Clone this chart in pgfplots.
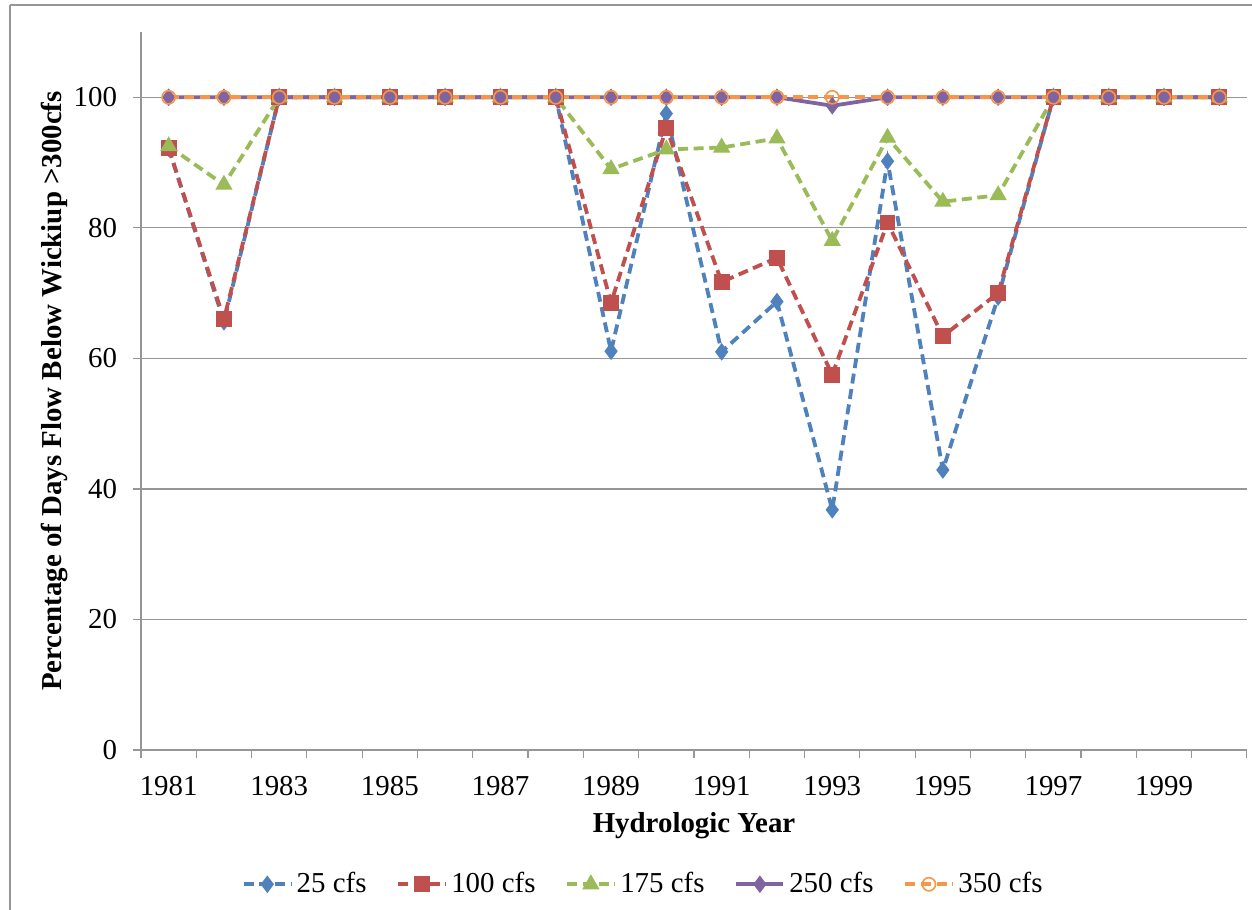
\documentclass[border=0pt]{standalone}
\usepackage{fontspec}
\setmainfont{Liberation Serif}
\usepackage{pgfplots}
\pgfplotsset{compat=1.18}

\definecolor{c25}{HTML}{4F81BD}
\definecolor{c100}{HTML}{C0504D}
\definecolor{c175}{HTML}{9BBB59}
\definecolor{c250}{HTML}{8064A2}
\definecolor{c350}{HTML}{F79646}
\definecolor{gridgray}{RGB}{150,150,150}

\pgfplotstableread{
year  q25   q100  q175  q250  q350
1981  92.2  92.2  92.5  100   100
1982  65.6  66.0  86.6  100   100
1983  100   100   100   100   100
1984  100   100   100   100   100
1985  100   100   100   100   100
1986  100   100   100   100   100
1987  100   100   100   100   100
1988  100   100   100   100   100
1989  61.1  68.5  89.0  100   100
1990  97.5  95.3  92.0  100   100
1991  61.0  71.7  92.3  100   100
1992  68.7  75.4  93.7  100   100
1993  36.8  57.5  78.0  98.7  100
1994  90.2  80.8  93.8  100   100
1995  42.9  63.4  84.0  100   100
1996  69.4  70.0  85.0  100   100
1997  100   100   100   100   100
1998  100   100   100   100   100
1999  100   100   100   100   100
2000  100   100   100   100   100
}\flows

\begin{document}
\fontsize{14.5}{16}\selectfont
\begin{tikzpicture}
\begin{axis}[
    at={(0,0)}, anchor=south west,
    scale only axis,
    width=553bp, height=359bp,
    xmin=1980.5, xmax=2000.5,
    ymin=0, ymax=110,
    axis x line*=bottom, axis y line*=left,
    axis line style={gridgray, line width=0.6bp, -},
    xtick={1981,1983,...,1999},
    minor xtick={1980.5,1981.5,...,2000.5},
    ytick={0,20,...,100},
    major x tick style={draw=none},
    minor x tick style={gridgray, line width=0.6bp},
    minor tick length=4bp,
    y tick style={gridgray, line width=0.6bp},
    major tick length=4bp,
    tick align=outside,
    ymajorgrids,
    grid style={gridgray, line width=0.6bp},
    /pgf/number format/assume math mode=true,
    xticklabel style={/pgf/number format/1000 sep={}, font=\fontsize{14.5}{16}\selectfont, yshift=-4bp},
    yticklabel style={font=\fontsize{14.5}{16}\selectfont, xshift=-3bp},
    xlabel={\textbf{Hydrologic Year}},
    ylabel={\textbf{Percentage of Days Flow Below Wickiup >300cfs}},
    xlabel style={at={(axis description cs:0.5,-0.105)}, anchor=center, font=\fontsize{14.5}{16}\selectfont},
    ylabel style={at={(axis description cs:-0.078,0.5)}, anchor=center, font=\fontsize{14.5}{16}\selectfont},
    legend columns=5,
    legend style={at={(axis description cs:0.455,-0.187)}, anchor=center, draw=none,
        font=\fontsize{14.5}{16}\selectfont,
        /tikz/every even column/.append style={column sep=13bp}},
    legend image code/.code={\draw[mark repeat=2, mark phase=2] plot coordinates {(0bp,0bp) (11.75bp,0bp) (23.5bp,0bp)};},
  ]
  \addplot[c25, line width=1.9bp, dash pattern=on 5bp off 2.8bp, mark=diamond*, mark size=4bp, mark options={solid, line width=0.5bp, fill=c25}] table[x=year, y=q25] {\flows};
  \addlegendentry{25 cfs}
  \addplot[c100, line width=1.9bp, dash pattern=on 5bp off 2.8bp, mark=square*, mark size=3.7bp, mark options={solid, line width=0.5bp, fill=c100}] table[x=year, y=q100] {\flows};
  \addlegendentry{100 cfs}
  \addplot[c175, line width=1.9bp, dash pattern=on 5bp off 2.8bp, mark=triangle*, mark size=4.5bp, mark options={solid, line width=0.5bp, fill=c175}] table[x=year, y=q175] {\flows};
  \addlegendentry{175 cfs}
  \addplot[c250, line width=1.9bp, solid, mark=diamond*, mark size=4bp, mark options={solid, line width=0.5bp, fill=c250}] table[x=year, y=q250] {\flows};
  \addlegendentry{250 cfs}
  \addplot[c350, line width=1.9bp, dash pattern=on 5bp off 2.8bp, mark=o, mark size=3.3bp, mark options={solid, line width=0.8bp, fill=none}] table[x=year, y=q350] {\flows};
  \addlegendentry{350 cfs}
\end{axis}
\draw[gridgray, line width=0.7bp] (-65.5bp,372.5bp) -- (565bp,372.5bp);
\draw[gridgray, line width=0.7bp] (-65.5bp,372.5bp) -- (-65.5bp,-90bp);
\pgfresetboundingbox
\path[use as bounding box] (-70.5bp,-80bp) rectangle (555.5bp,375bp);
\end{tikzpicture}
\end{document}
